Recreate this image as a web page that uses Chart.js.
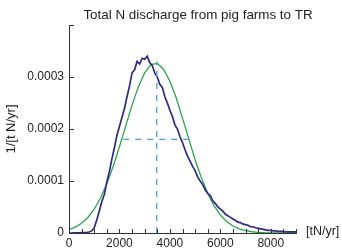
<!DOCTYPE html>
<html>
<head>
<meta charset="utf-8">
<script src="https://cdn.jsdelivr.net/npm/chart.js@4"></script>
<style>
  html, body { margin: 0; padding: 0; background: #fff; }
  canvas { display: block; }
</style>
</head>
<body>
<canvas id="chartDischarge" width="342" height="252"></canvas>
<script>
const titleText = "Total N discharge from pig farms to TR";
const xUnitText = "[tN/yr]";
const yTitleText = "1/[t N/yr]";

// empirical density (blue)
const blueX = [0, 100, 200, 300, 400, 500, 600, 700, 800, 900,
  1000, 1100, 1200, 1300, 1400, 1500, 1600, 1700, 1800, 1900,
  2000, 2100, 2200, 2300, 2400, 2500, 2600, 2700, 2800, 2900,
  3000, 3100, 3200, 3300, 3400, 3500, 3600, 3700, 3800, 3900,
  4000, 4100, 4200, 4300, 4400, 4500, 4600, 4700, 4800, 4900,
  5000, 5100, 5200, 5300, 5400, 5500, 5600, 5700, 5800, 5900,
  6000, 6100, 6200, 6300, 6400, 6500, 6600, 6700, 6800, 6900,
  7000, 7100, 7200, 7300, 7400, 7500, 7600, 7700, 7800, 7900,
  8000, 8100, 8200, 8300, 8400, 8500, 8600, 8700, 8800, 8900, 9000];
const blueY = [0, 0, 0.0000005, 0.0000005, 0.0000005, 0.000001, 0.000001, 0.000001, 0.000002, 0.000004,
  0.00001, 0.000025, 0.000042, 0.00006, 0.000074, 0.000098, 0.000118, 0.000142, 0.000164, 0.000188,
  0.000205, 0.000222, 0.00024, 0.000262, 0.000283, 0.000308, 0.000314, 0.00033, 0.000325, 0.000336,
  0.000334, 0.00034, 0.000328, 0.000322, 0.000308, 0.0003, 0.000286, 0.00028, 0.000262, 0.00025,
  0.000236, 0.000224, 0.000208, 0.0002, 0.000185, 0.000174, 0.00016, 0.000148, 0.000138, 0.000128,
  0.00012, 0.000108, 0.0001, 0.000093, 0.000083, 0.000076, 0.000072, 0.000062, 0.000057, 0.00005,
  0.000046, 0.000042, 0.000036, 0.000033, 0.00003, 0.000027, 0.000024, 0.000021, 0.00002, 0.000017,
  0.000016, 0.000015, 0.000012, 0.000012, 0.00001, 0.000009, 0.000008, 0.000007, 0.000006, 0.000005,
  0.000005, 0.000004, 0.000004, 0.000003, 0.000003, 0.000003, 0.000002, 0.000002, 0.000002, 0.000002, 0.000002];

// fitted normal (green)
const greenX = [0, 250, 500, 750, 1000, 1250, 1500, 1750, 2000, 2250,
  2500, 2750, 3000, 3250, 3500, 3750, 4000, 4250, 4500, 4750,
  5000, 5250, 5500, 5750, 6000, 6250, 6500, 6750, 7000, 7250,
  7500, 7750, 8000, 8500, 9000];
const greenY = [0.0000064, 0.0000112, 0.0000186, 0.0000298, 0.0000457, 0.0000672, 0.0000947, 0.000128, 0.000166, 0.000206,
  0.000246, 0.000281, 0.000308, 0.000324, 0.000326, 0.000315, 0.000292, 0.00026, 0.000221, 0.000181,
  0.000141, 0.000106, 0.0000765, 0.0000528, 0.0000349, 0.0000222, 0.0000135, 0.0000079, 0.0000044, 0.0000024,
  0.0000012, 0.0000006, 0.0000003, 0.0000001, 0];

// mean marker and spread marker (dashed)
const meanX = [3480, 3480];
const meanY = [0, 0.00033];
const spreadX = [2150, 4850];
const spreadY = [0.00018, 0.00018];

const xTickLabels = [0, 2000, 4000, 6000, 8000];

const toPoints = (xs, ys) => xs.map((x, i) => ({ x, y: ys[i] }));

const FONT = "'Liberation Sans', Arial, Helvetica, sans-serif";
const AXIS_COLOR = "#333";

const decorations = {
  id: "decorations",
  afterDraw(chart) {
    const { ctx, chartArea, scales } = chart;
    ctx.save();
    ctx.strokeStyle = AXIS_COLOR;
    ctx.lineWidth = 1;
    // inward minor ticks on x
    for (let v = 0; v <= 9000; v += 500) {
      const px = Math.round(scales.x.getPixelForValue(v)) + 0.5;
      ctx.beginPath();
      ctx.moveTo(px, chartArea.bottom);
      ctx.lineTo(px, chartArea.bottom - 4);
      ctx.stroke();
    }
    // inward ticks on y
    for (let i = 0; i <= 4; i++) {
      const py = Math.round(scales.y.getPixelForValue(i * 0.0001)) + 0.5;
      ctx.beginPath();
      ctx.moveTo(chartArea.left, py);
      ctx.lineTo(chartArea.left + 5, py);
      ctx.stroke();
    }
    ctx.fillStyle = "#222";
    ctx.font = `13.4px ${FONT}`;
    ctx.textAlign = "center";
    ctx.textBaseline = "middle";
    ctx.fillText(titleText, 198, 15);
    ctx.font = `12.5px ${FONT}`;
    ctx.textAlign = "left";
    ctx.fillText(xUnitText, 306, chartArea.bottom - 1);
    ctx.restore();
  },
};

new Chart(document.getElementById("chartDischarge").getContext("2d"), {
  type: "line",
  data: {
    datasets: [
      { data: toPoints(meanX, meanY), borderColor: "#4aa0d6", borderWidth: 1.3, borderDash: [6, 6], order: 0 },
      { data: toPoints(spreadX, spreadY), borderColor: "#4aa0d6", borderWidth: 1.3, borderDash: [6, 6], order: 0 },
      { data: toPoints(blueX, blueY), borderColor: "#2f2a80", borderWidth: 1.7, order: 1 },
      { data: toPoints(greenX, greenY), borderColor: "#2ca24f", borderWidth: 1.3, order: 2 },
    ],
  },
  options: {
    responsive: false,
    animation: false,
    elements: { point: { radius: 0 }, line: { tension: 0 } },
    layout: { padding: { top: 25, right: 46, left: 0, bottom: 0 } },
    plugins: { legend: { display: false }, tooltip: { enabled: false }, title: { display: false } },
    scales: {
      x: {
        type: "linear",
        min: 0,
        max: 9000,
        afterBuildTicks: (scale) => {
          scale.ticks = xTickLabels.map((v) => ({ value: v }));
        },
        afterFit: (scale) => { scale.height = 19; },
        grid: { display: false, drawTicks: false, tickLength: 0 },
        border: { display: true, color: AXIS_COLOR, width: 1 },
        ticks: {
          color: "#222",
          font: { family: FONT, size: 12 },
          padding: 3,
          maxRotation: 0,
          autoSkip: false,
          callback: (v) => String(v),
        },
      },
      y: {
        min: 0,
        max: 0.0004,
        afterFit: (scale) => { scale.width = 69; },
        grid: { display: false, drawTicks: false, tickLength: 0 },
        border: { display: true, color: AXIS_COLOR, width: 1 },
        ticks: {
          stepSize: 0.0001,
          color: "#222",
          font: { family: FONT, size: 12 },
          padding: 5,
          callback: (v) => (v === 0 ? "0" : v > 0.00035 ? "" : Number(v).toFixed(4)),
        },
        title: { display: true, text: yTitleText, color: "#222", font: { family: FONT, size: 13 }, padding: { top: 4, bottom: 0 } },
      },
    },
  },
  plugins: [decorations],
});
</script>
</body>
</html>
